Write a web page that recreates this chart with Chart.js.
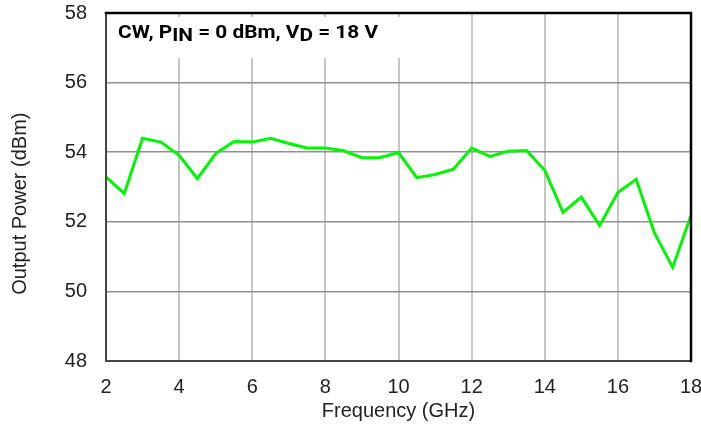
<!DOCTYPE html>
<html>
<head>
  <title>Output Power vs Frequency</title>
  <script src="https://cdn.jsdelivr.net/npm/chart.js@4.4.0/dist/chart.umd.min.js"></script>
  <style>
    html, body { margin: 0; padding: 0; background: #fff; }
    #wrap { width: 701px; height: 430px; }
  </style>
</head>
<body>
  <div id="wrap"><canvas id="powerChart"></canvas></div>

  <script>
    // Datos
    const freqGHz = [2, 2.5, 3, 3.5, 4, 4.5, 5, 5.5, 6, 6.5, 7, 7.5, 8, 8.5, 9, 9.5, 10,
                     10.5, 11, 11.5, 12, 12.5, 13, 13.5, 14, 14.5, 15, 15.5, 16, 16.5, 17, 17.5, 18];
    const outPower = [53.29, 52.81, 54.40, 54.29, 53.91, 53.24, 53.96, 54.31, 54.29, 54.40, 54.25, 54.12, 54.12,
                      54.04, 53.84, 53.85, 53.99, 53.27, 53.36, 53.51, 54.12, 53.88, 54.03, 54.05, 53.48,
                      52.27, 52.71, 51.89, 52.84, 53.22, 51.68, 50.69, 52.18];
    const xTicks = [2, 4, 6, 8, 10, 12, 14, 16, 18];
    const yTicks = [48, 50, 52, 54, 56, 58];

    const axisFont = { family: 'Liberation Sans', size: 20 };

    // Recuadro con condiciones + bordes del area
    const framePlugin = {
      id: 'frame',
      beforeDatasetsDraw(chart) {
        const {ctx, chartArea: a} = chart;
        ctx.save();
        ctx.fillStyle = '#fff';
        ctx.fillRect(a.left + 1, 17, 298, 41);
        ctx.fillStyle = '#000';
        ctx.textBaseline = 'alphabetic';
        const parts = [['CW, P', 0], ['IN', 3.5], [' = 0 dBm, V', 0], ['D', 3.5], [' = 18 V', 0]];
        ctx.font = 'bold 18px Roboto';
        let total = 0;
        parts.forEach(p => { total += ctx.measureText(p[0]).width; });
        const sx = 260 / total;
        ctx.translate(118, 0);
        ctx.scale(sx, 1);
        let x = 0;
        parts.forEach(p => {
          ctx.fillText(p[0], x, 37.5 + p[1]);
          x += ctx.measureText(p[0]).width;
        });
        ctx.restore();
      },
      afterDatasetsDraw(chart) {
        const {ctx, chartArea: a} = chart;
        ctx.save();
        ctx.lineCap = 'square';
        ctx.strokeStyle = '#444';
        ctx.lineWidth = 2;
        ctx.beginPath();
        ctx.moveTo(a.left, a.top);
        ctx.lineTo(a.left, a.bottom);
        ctx.lineTo(a.right, a.bottom);
        ctx.stroke();
        ctx.strokeStyle = '#000';
        ctx.lineWidth = 2.5;
        ctx.beginPath();
        ctx.moveTo(a.left, a.top);
        ctx.lineTo(a.right, a.top);
        ctx.lineTo(a.right, a.bottom);
        ctx.stroke();
        ctx.restore();
      }
    };

    const powerData = {
      datasets: [{
        label: 'Output Power',
        data: freqGHz.map((f, i) => ({x: f, y: outPower[i]})),
        borderColor: '#00f500',
        borderWidth: 3,
        pointRadius: 0,
        tension: 0,
        fill: false
      }]
    };

    const powerConfig = {
      type: 'line',
      data: powerData,
      options: {
        responsive: false,
        animation: false,
        devicePixelRatio: 1,
        layout: { padding: { top: 13, right: 10, left: 0, bottom: 0 } },
        plugins: { legend: { display: false }, tooltip: { enabled: false } },
        scales: {
          x: {
            type: 'linear',
            min: 2, max: 18,
            afterBuildTicks: s => { s.ticks = xTicks.map(v => ({value: v})); },
            afterFit: s => { s.height = 69; s.paddingLeft = 0; s.paddingRight = 0; },
            grid: {
              color: ctx => (ctx.tick && (ctx.tick.value === 2 || ctx.tick.value === 18)) ? 'rgba(0,0,0,0)' : '#c6c6c6',
              lineWidth: 2,
              drawTicks: false
            },
            border: { display: false },
            ticks: { padding: 14, color: '#222', font: axisFont, maxRotation: 0 },
            title: { display: true, text: 'Frequency (GHz)', color: '#222',
                     font: axisFont, padding: { top: 0, bottom: 7 } }
          },
          y: {
            min: 48, max: 58,
            afterBuildTicks: s => { s.ticks = yTicks.map(v => ({value: v})); },
            afterFit: s => { s.width = 106; s.paddingTop = 0; s.paddingBottom = 0; },
            grid: {
              color: ctx => (ctx.tick && (ctx.tick.value === 48 || ctx.tick.value === 58)) ? 'rgba(0,0,0,0)' : '#909090',
              lineWidth: 1.5,
              drawTicks: false
            },
            border: { display: false },
            ticks: { padding: 19, color: '#222', font: axisFont },
            // espacios finales: el titulo original esta algo mas abajo que el centro
            title: { display: true, text: 'Output Power (dBm)      ', color: '#222',
                     font: axisFont, padding: { top: 8, bottom: 0 } }
          }
        }
      },
      plugins: [framePlugin]
    };

    const canvas = document.getElementById('powerChart');
    canvas.width = 701;
    canvas.height = 430;
    const powerChart = new Chart(canvas, powerConfig);
  </script>
</body>
</html>
